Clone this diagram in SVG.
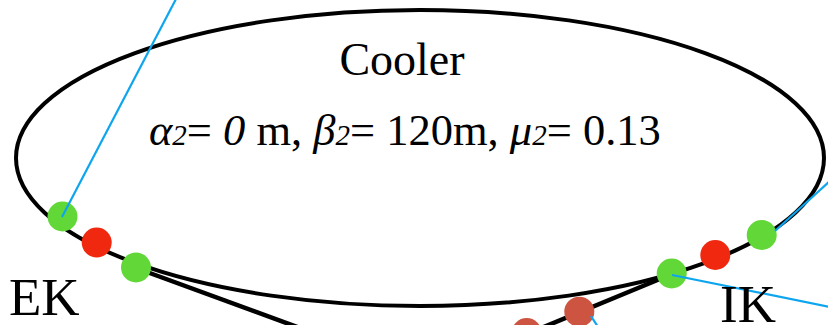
<svg xmlns="http://www.w3.org/2000/svg" width="828" height="325" viewBox="0 0 828 325">
<style>
.ring{fill:none;stroke:#000;stroke-width:4}
.beam{fill:none;stroke:#000;stroke-width:4.5}
.ray{fill:none;stroke:#0ea5ef;stroke-width:2.2}
.g{fill:#62d838}
.r{fill:#f0280f}
.b{fill:#cc5441}
.t{font-family:"Liberation Serif","Times New Roman",serif;fill:#000}
</style>
<rect width="828" height="325" fill="#fff"/>
<g id="cooler">
<ellipse class="ring" cx="420" cy="158" rx="404" ry="148"/>
<text class="t" x="402" y="75" font-size="46" text-anchor="middle">Cooler</text>
<text class="t" x="149" y="145" font-size="44.5"><tspan font-style="italic">α</tspan><tspan font-style="italic" font-size="29">2</tspan>= <tspan font-style="italic">0</tspan> m, <tspan font-style="italic">β</tspan><tspan font-style="italic" font-size="29">2</tspan>= 120m, <tspan font-style="italic">μ</tspan><tspan font-style="italic" font-size="29">2</tspan>= 0.13</text>
</g>
<g id="connectors">
<line class="beam" x1="136" y1="268" x2="300" y2="328"/>
<line class="beam" x1="672" y1="274" x2="505" y2="343"/>
</g>
<g id="dot-ek-1"><circle class="g" cx="62.5" cy="216.5" r="15"/></g>
<g id="dot-ek-2"><circle class="r" cx="96.7" cy="242.5" r="15"/></g>
<g id="dot-ek-3"><circle class="g" cx="136" cy="267.5" r="15"/></g>
<g id="dot-ik-1"><circle class="g" cx="671.7" cy="273.5" r="15"/></g>
<g id="dot-ik-2"><circle class="r" cx="715.3" cy="255" r="15"/></g>
<g id="dot-ik-3"><circle class="g" cx="761.7" cy="235" r="15"/></g>
<g id="dot-beam-1"><circle class="b" cx="579.3" cy="311.7" r="15"/></g>
<g id="dot-beam-2"><circle class="b" cx="526.7" cy="333" r="15"/></g>
<g id="rays">
<line class="ray" x1="62" y1="217" x2="176" y2="-1"/>
<line class="ray" x1="672" y1="275" x2="830" y2="307"/>
<line class="ray" x1="775" y1="231" x2="830" y2="181"/>
<line class="ray" x1="591" y1="316" x2="598" y2="327"/>
</g>
<g id="label-ek"><text class="t" x="9" y="315" font-size="53">EK</text></g>
<g id="label-ik"><text class="t" x="720" y="322" font-size="53">IK</text></g>
</svg>
